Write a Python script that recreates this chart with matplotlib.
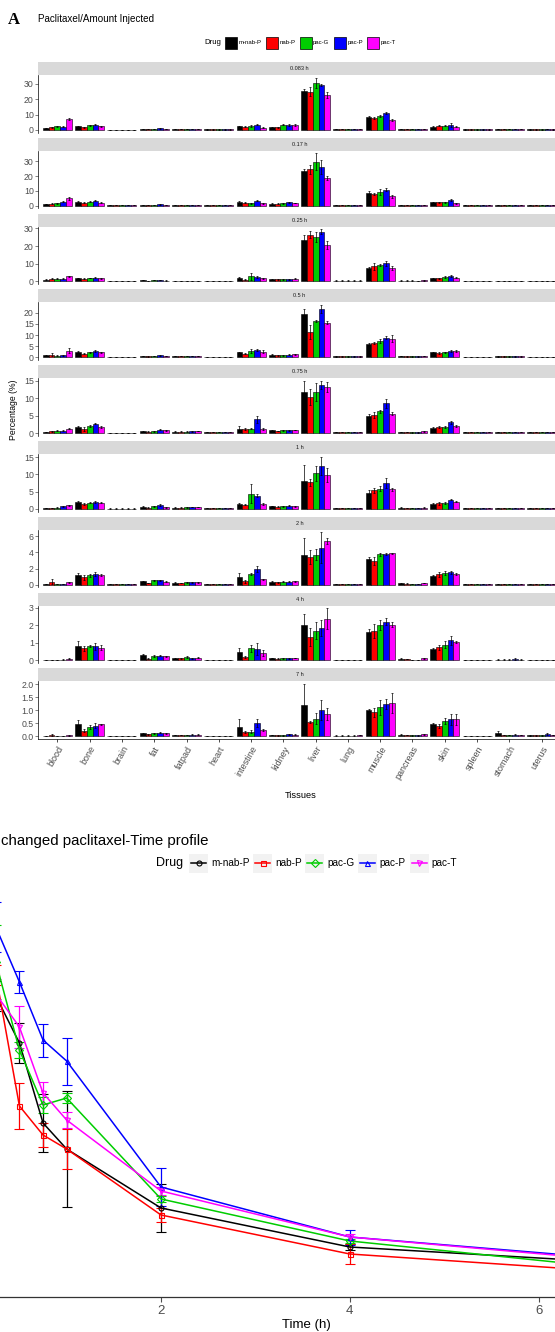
import numpy as np
import matplotlib.pyplot as plt
from matplotlib.patches import Rectangle
from matplotlib.ticker import FormatStrFormatter

plt.rcParams['font.family'] = ['Liberation Sans', 'DejaVu Sans']

# --- data -------------------------------------------------------------
drugs = ['m-nab-P', 'nab-P', 'pac-G', 'pac-P', 'pac-T']
colors = ['#000000', '#FF0000', '#00CD00', '#0000FF', '#FF00FF']
markers = ['o', 's', 'D', '^', 'v']
tissues = ['blood', 'bone', 'brain', 'fat', 'fatpad', 'heart', 'intestine', 'kidney',
           'liver', 'lung', 'muscle', 'pancreas', 'skin', 'spleen', 'stomach', 'uterus']
time_labels = ['0.083 h', '0.17 h', '0.25 h', '0.5 h', '0.75 h', '1 h', '2 h', '4 h', '7 h']
yticks_list = [[0, 10, 20, 30], [0, 10, 20, 30], [0, 10, 20, 30], [0, 5, 10, 15, 20],
               [0, 5, 10, 15], [0, 5, 10, 15], [0, 2, 4, 6], [0, 1, 2, 3],
               [0, 0.5, 1.0, 1.5, 2.0]]

# percentage of injected dose, rows = tissues, cols = drugs
pct_0083 = [[1.3, 1.7, 2.4, 2.2, 7.2], [2.4, 1.7, 3.0, 3.5, 2.4], [0.2, 0.2, 0.2, 0.2, 0.2],
            [0.5, 0.4, 0.6, 1.0, 0.4], [0.4, 0.4, 0.5, 0.4, 0.4], [0.3, 0.3, 0.3, 0.3, 0.3],
            [2.4, 2.2, 2.6, 3.5, 1.5], [1.7, 1.8, 3.5, 3.2, 3.2], [25.2, 25.0, 30.6, 29.3, 23.0],
            [0.5, 0.5, 0.6, 0.6, 0.6], [8.3, 7.6, 8.9, 11.1, 6.5], [0.6, 0.5, 0.5, 0.5, 0.6],
            [2.2, 2.8, 2.8, 3.5, 2.2], [0.3, 0.3, 0.3, 0.3, 0.3], [0.4, 0.4, 0.5, 0.6, 0.4],
            [0.3, 0.3, 0.3, 0.4, 0.3]]
err_0083 = [[0.2, 0.3, 0.3, 0.3, 0.7], [0.3, 0.2, 0.3, 0.4, 0.3], [0.05, 0.05, 0.05, 0.05, 0.05],
            [0.1, 0.1, 0.1, 0.2, 0.1], [0.1, 0.1, 0.1, 0.1, 0.1], [0.05, 0.05, 0.05, 0.05, 0.05],
            [0.4, 0.3, 0.4, 0.5, 0.3], [0.3, 0.3, 0.4, 0.4, 0.4], [1.3, 2.8, 3.5, 0.8, 2.0],
            [0.1, 0.1, 0.1, 0.1, 0.1], [0.6, 0.8, 0.7, 0.7, 0.8], [0.1, 0.1, 0.1, 0.1, 0.1],
            [0.3, 0.4, 0.4, 1.3, 0.3], [0.05, 0.05, 0.05, 0.05, 0.05], [0.1, 0.1, 0.1, 0.1, 0.1],
            [0.05, 0.05, 0.05, 0.05, 0.05]]

pct_017 = [[1.1, 1.3, 1.7, 2.6, 5.0], [2.6, 2.0, 2.8, 3.5, 2.0], [0.2, 0.2, 0.2, 0.2, 0.2],
           [0.6, 0.5, 0.6, 1.1, 0.5], [0.5, 0.5, 0.5, 0.5, 0.5], [0.3, 0.3, 0.3, 0.3, 0.3],
           [2.4, 2.0, 1.7, 3.5, 1.7], [1.3, 1.3, 1.5, 2.2, 1.7], [23.2, 24.6, 29.8, 26.1, 18.7],
           [0.4, 0.4, 0.5, 0.6, 0.6], [8.3, 8.0, 9.3, 10.9, 6.5], [0.5, 0.5, 0.5, 0.5, 0.7],
           [2.4, 2.4, 2.4, 3.7, 1.7], [0.3, 0.3, 0.3, 0.3, 0.3], [0.4, 0.4, 0.5, 0.6, 0.4],
           [0.3, 0.3, 0.3, 0.3, 0.3]]
err_017 = [[0.2, 0.2, 0.3, 0.4, 1.0], [0.3, 0.3, 0.5, 0.5, 0.3], [0.05, 0.05, 0.05, 0.05, 0.05],
           [0.1, 0.1, 0.1, 0.3, 0.1], [0.1, 0.1, 0.1, 0.1, 0.1], [0.05, 0.05, 0.05, 0.05, 0.05],
           [0.5, 0.5, 0.4, 0.4, 0.3], [0.2, 0.2, 0.2, 0.3, 0.2], [1.5, 3.0, 5.5, 5.0, 1.2],
           [0.1, 0.1, 0.1, 0.1, 0.1], [1.5, 0.6, 1.8, 1.0, 1.0], [0.1, 0.1, 0.1, 0.1, 0.1],
           [0.3, 0.4, 0.3, 0.5, 0.3], [0.05, 0.05, 0.05, 0.05, 0.05], [0.1, 0.1, 0.1, 0.1, 0.1],
           [0.05, 0.05, 0.05, 0.05, 0.05]]

pct_025 = [[1.1, 1.5, 1.5, 1.5, 2.9], [2.0, 1.6, 2.0, 2.2, 1.8], [0.2, 0.2, 0.2, 0.2, 0.2],
           [0.8, 0.4, 0.8, 0.8, 0.5], [0.4, 0.4, 0.4, 0.4, 0.4], [0.3, 0.3, 0.3, 0.3, 0.3],
           [2.2, 1.1, 2.9, 2.5, 1.8], [1.2, 1.2, 1.2, 1.2, 1.5], [23.5, 26.5, 25.1, 28.2, 20.7],
           [0.5, 0.5, 0.5, 0.5, 0.5], [7.8, 8.5, 9.3, 10.2, 7.5], [0.5, 0.5, 0.5, 0.3, 0.6],
           [1.8, 1.8, 2.5, 3.1, 2.2], [0.2, 0.2, 0.2, 0.2, 0.2], [0.4, 0.4, 0.4, 0.4, 0.4],
           [0.3, 0.3, 0.3, 0.3, 0.3]]
err_025 = [[0.2, 0.3, 0.3, 0.3, 0.4], [0.2, 0.3, 0.2, 0.3, 0.2], [0.05, 0.05, 0.05, 0.05, 0.05],
           [0.1, 0.1, 0.1, 0.1, 0.1], [0.1, 0.1, 0.1, 0.1, 0.1], [0.05, 0.05, 0.05, 0.05, 0.05],
           [0.3, 0.2, 2.0, 0.8, 0.4], [0.2, 0.2, 0.2, 0.2, 0.2], [2.5, 2.2, 2.7, 1.3, 2.3],
           [0.1, 0.1, 0.1, 0.1, 0.1], [0.5, 2.0, 0.7, 1.2, 1.0], [0.1, 0.1, 0.1, 0.1, 0.1],
           [0.3, 0.3, 0.4, 0.4, 0.3], [0.05, 0.05, 0.05, 0.05, 0.05], [0.1, 0.1, 0.1, 0.1, 0.1],
           [0.05, 0.05, 0.05, 0.05, 0.05]]

pct_05 = [[0.9, 1.2, 0.7, 0.9, 3.0], [2.5, 1.6, 2.2, 2.8, 2.2], [0.2, 0.2, 0.2, 0.2, 0.2],
          [0.7, 0.4, 0.7, 1.0, 0.5], [0.5, 0.5, 0.5, 0.6, 0.6], [0.3, 0.3, 0.3, 0.3, 0.3],
          [2.2, 1.7, 2.8, 3.3, 2.6], [1.2, 1.0, 1.0, 1.2, 1.4], [19.3, 11.3, 16.4, 21.7, 15.5],
          [0.4, 0.4, 0.4, 0.4, 0.4], [6.1, 6.5, 7.2, 8.7, 8.3], [0.5, 0.4, 0.4, 0.4, 0.6],
          [2.2, 1.9, 2.3, 3.0, 2.9], [0.3, 0.3, 0.3, 0.3, 0.3], [0.4, 0.4, 0.4, 0.4, 0.4],
          [0.3, 0.3, 0.3, 0.3, 0.3]]
err_05 = [[0.2, 0.8, 0.2, 0.3, 1.0], [0.3, 0.2, 0.2, 0.5, 0.3], [0.05, 0.05, 0.05, 0.05, 0.05],
          [0.1, 0.1, 0.1, 0.2, 0.1], [0.1, 0.1, 0.1, 0.1, 0.1], [0.05, 0.05, 0.05, 0.05, 0.05],
          [0.4, 0.3, 0.8, 0.5, 0.8], [0.2, 0.2, 0.2, 0.2, 0.2], [2.3, 3.0, 0.5, 1.8, 0.6],
          [0.1, 0.1, 0.1, 0.1, 0.1], [0.4, 0.5, 1.0, 0.7, 1.5], [0.1, 0.1, 0.1, 0.1, 0.1],
          [0.3, 0.3, 0.3, 0.4, 0.5], [0.05, 0.05, 0.05, 0.05, 0.05], [0.1, 0.1, 0.1, 0.1, 0.1],
          [0.05, 0.05, 0.05, 0.05, 0.05]]

pct_075 = [[0.3, 0.5, 0.65, 0.65, 1.3], [1.75, 1.2, 2.0, 2.7, 1.7], [0.1, 0.1, 0.1, 0.1, 0.1],
           [0.55, 0.45, 0.55, 1.0, 0.8], [0.45, 0.45, 0.45, 0.5, 0.55], [0.2, 0.2, 0.2, 0.2, 0.2],
           [1.3, 1.2, 1.3, 3.9, 1.3], [0.75, 0.6, 0.8, 0.8, 0.9], [11.8, 10.4, 11.8, 13.8, 13.3],
           [0.3, 0.3, 0.3, 0.3, 0.3], [5.0, 5.2, 6.2, 8.5, 5.6], [0.4, 0.3, 0.2, 0.2, 0.5],
           [1.5, 1.7, 1.85, 3.05, 2.0], [0.2, 0.2, 0.2, 0.2, 0.2], [0.3, 0.3, 0.3, 0.3, 0.3],
           [0.2, 0.2, 0.2, 0.2, 0.2]]
err_075 = [[0.05, 0.1, 0.1, 0.1, 0.1], [0.2, 0.5, 0.3, 0.2, 0.2], [0.02, 0.02, 0.02, 0.02, 0.02],
           [0.1, 0.1, 0.1, 0.1, 0.2], [0.05, 0.05, 0.05, 0.05, 0.05], [0.03, 0.03, 0.03, 0.03, 0.03],
           [0.7, 0.2, 0.2, 0.9, 0.3], [0.1, 0.1, 0.1, 0.1, 0.1], [3.2, 2.3, 2.7, 1.1, 1.5],
           [0.05, 0.05, 0.05, 0.05, 0.05], [0.5, 0.8, 0.3, 1.2, 0.5], [0.05, 0.05, 0.05, 0.05, 0.1],
           [0.2, 0.2, 0.3, 0.4, 0.2], [0.03, 0.03, 0.03, 0.03, 0.03], [0.05, 0.05, 0.05, 0.05, 0.05],
           [0.03, 0.03, 0.03, 0.03, 0.03]]

pct_1 = [[0.3, 0.3, 0.4, 0.7, 1.0], [1.9, 1.4, 1.8, 2.05, 1.8], [0.1, 0.1, 0.1, 0.1, 0.1],
         [0.6, 0.4, 0.7, 1.1, 0.5], [0.4, 0.4, 0.45, 0.5, 0.55], [0.15, 0.15, 0.15, 0.15, 0.15],
         [1.4, 1.2, 4.4, 3.8, 1.4], [0.8, 0.6, 0.7, 0.9, 0.75], [8.1, 7.8, 10.3, 12.5, 9.8],
         [0.3, 0.3, 0.3, 0.3, 0.3], [4.5, 5.4, 5.9, 7.5, 5.7], [0.4, 0.3, 0.3, 0.3, 0.4],
         [1.4, 1.6, 1.7, 2.7, 2.05], [0.2, 0.2, 0.2, 0.2, 0.2], [0.3, 0.3, 0.3, 0.3, 0.3],
         [0.2, 0.2, 0.2, 0.2, 0.2]]
err_1 = [[0.05, 0.05, 0.05, 0.1, 0.1], [0.3, 0.2, 0.2, 0.2, 0.2], [0.02, 0.02, 0.02, 0.02, 0.02],
         [0.1, 0.1, 0.1, 0.2, 0.1], [0.05, 0.05, 0.05, 0.05, 0.05], [0.03, 0.03, 0.03, 0.03, 0.03],
         [0.4, 0.2, 2.8, 0.4, 0.3], [0.1, 0.1, 0.1, 0.1, 0.1], [4.7, 1.0, 2.2, 2.7, 2.0],
         [0.05, 0.05, 0.05, 0.05, 0.05], [1.0, 0.8, 0.7, 1.5, 0.4], [0.05, 0.05, 0.05, 0.05, 0.05],
         [0.3, 0.4, 0.2, 0.2, 0.1], [0.03, 0.03, 0.03, 0.03, 0.03], [0.05, 0.05, 0.05, 0.05, 0.05],
         [0.03, 0.03, 0.03, 0.03, 0.03]]

pct_2 = [[0.08, 0.36, 0.08, 0.08, 0.32], [1.25, 0.93, 1.17, 1.33, 1.17], [0.05, 0.05, 0.05, 0.05, 0.05],
         [0.4, 0.24, 0.52, 0.56, 0.36], [0.25, 0.22, 0.3, 0.28, 0.3], [0.08, 0.08, 0.08, 0.08, 0.08],
         [0.93, 0.44, 1.29, 1.94, 0.69], [0.35, 0.3, 0.35, 0.35, 0.4], [3.63, 3.4, 3.7, 4.56, 5.4],
         [0.1, 0.1, 0.1, 0.1, 0.1], [3.23, 2.9, 3.75, 3.8, 3.87], [0.15, 0.12, 0.1, 0.1, 0.2],
         [1.13, 1.3, 1.5, 1.55, 1.3], [0.1, 0.1, 0.1, 0.1, 0.1], [0.12, 0.12, 0.12, 0.12, 0.12],
         [0.1, 0.1, 0.1, 0.1, 0.1]]
err_2 = [[0.02, 0.3, 0.02, 0.02, 0.05], [0.2, 0.3, 0.2, 0.2, 0.15], [0.01, 0.01, 0.01, 0.01, 0.01],
         [0.05, 0.03, 0.05, 0.05, 0.05], [0.04, 0.04, 0.04, 0.04, 0.04], [0.01, 0.01, 0.01, 0.01, 0.01],
         [0.5, 0.2, 0.1, 0.4, 0.05], [0.05, 0.05, 0.05, 0.05, 0.05], [2.1, 0.9, 0.7, 1.9, 0.4],
         [0.02, 0.02, 0.02, 0.02, 0.02], [0.2, 0.5, 0.2, 0.15, 0.1], [0.03, 0.03, 0.02, 0.02, 0.03],
         [0.05, 0.3, 0.25, 0.2, 0.1], [0.02, 0.02, 0.02, 0.02, 0.02], [0.02, 0.02, 0.02, 0.02, 0.02],
         [0.02, 0.02, 0.02, 0.02, 0.02]]

pct_4 = [[0.04, 0.04, 0.04, 0.05, 0.1], [0.8, 0.7, 0.84, 0.8, 0.74], [0.02, 0.02, 0.02, 0.02, 0.02],
         [0.33, 0.1, 0.25, 0.28, 0.24], [0.12, 0.12, 0.2, 0.13, 0.17], [0.02, 0.02, 0.02, 0.02, 0.02],
         [0.47, 0.2, 0.7, 0.65, 0.43], [0.15, 0.1, 0.13, 0.13, 0.15], [2.0, 1.33, 1.7, 1.83, 2.38],
         [0.04, 0.04, 0.04, 0.04, 0.04], [1.62, 1.66, 2.03, 2.22, 2.05], [0.1, 0.08, 0.04, 0.04, 0.13],
         [0.65, 0.76, 0.9, 1.15, 1.06], [0.03, 0.03, 0.03, 0.03, 0.03], [0.05, 0.05, 0.05, 0.1, 0.05],
         [0.04, 0.04, 0.04, 0.04, 0.04]]
err_4 = [[0.01, 0.01, 0.01, 0.01, 0.02], [0.3, 0.15, 0.05, 0.2, 0.15], [0.01, 0.01, 0.01, 0.01, 0.01],
         [0.03, 0.02, 0.04, 0.03, 0.03], [0.02, 0.02, 0.03, 0.02, 0.02], [0.01, 0.01, 0.01, 0.01, 0.01],
         [0.25, 0.05, 0.2, 0.35, 0.15], [0.02, 0.02, 0.02, 0.02, 0.02], [0.65, 0.5, 0.5, 0.45, 0.6],
         [0.01, 0.01, 0.01, 0.01, 0.01], [0.2, 0.4, 0.3, 0.2, 0.15], [0.02, 0.02, 0.01, 0.01, 0.02],
         [0.05, 0.15, 0.2, 0.25, 0.05], [0.01, 0.01, 0.01, 0.01, 0.01], [0.02, 0.02, 0.02, 0.05, 0.02],
         [0.01, 0.01, 0.01, 0.01, 0.01]]

pct_7 = [[0.02, 0.05, 0.02, 0.02, 0.04], [0.47, 0.22, 0.37, 0.41, 0.47], [0.01, 0.01, 0.01, 0.01, 0.01],
         [0.12, 0.07, 0.11, 0.13, 0.11], [0.05, 0.05, 0.05, 0.06, 0.06], [0.01, 0.01, 0.01, 0.01, 0.01],
         [0.36, 0.16, 0.18, 0.51, 0.25], [0.05, 0.04, 0.04, 0.08, 0.06], [1.19, 0.55, 0.68, 1.01, 0.86],
         [0.03, 0.03, 0.03, 0.03, 0.05], [1.0, 0.93, 1.11, 1.25, 1.27], [0.06, 0.05, 0.04, 0.04, 0.08],
         [0.47, 0.41, 0.59, 0.65, 0.65], [0.02, 0.02, 0.02, 0.02, 0.02], [0.12, 0.05, 0.05, 0.06, 0.05],
         [0.04, 0.04, 0.04, 0.08, 0.05]]
err_7 = [[0.01, 0.03, 0.01, 0.01, 0.02], [0.15, 0.05, 0.08, 0.1, 0.02], [0.005, 0.005, 0.005, 0.005, 0.005],
         [0.02, 0.02, 0.03, 0.02, 0.02], [0.01, 0.01, 0.01, 0.01, 0.01], [0.005, 0.005, 0.005, 0.005, 0.005],
         [0.3, 0.05, 0.06, 0.15, 0.04], [0.01, 0.01, 0.01, 0.02, 0.01], [0.82, 0.03, 0.2, 0.4, 0.22],
         [0.01, 0.01, 0.01, 0.01, 0.01], [0.03, 0.17, 0.3, 0.2, 0.38], [0.01, 0.01, 0.01, 0.01, 0.02],
         [0.05, 0.08, 0.1, 0.22, 0.2], [0.005, 0.005, 0.005, 0.005, 0.005], [0.08, 0.01, 0.01, 0.02, 0.01],
         [0.01, 0.01, 0.01, 0.03, 0.01]]

pct_means = [pct_0083, pct_017, pct_025, pct_05, pct_075, pct_1, pct_2, pct_4, pct_7]
pct_errs = [err_0083, err_017, err_025, err_05, err_075, err_1, err_2, err_4, err_7]

# unchanged paclitaxel vs time
time_h = [0.083, 0.17, 0.25, 0.5, 0.75, 1, 2, 4, 7]
conc = [[34.0, 32.0, 30.1, 25.4, 17.4, 14.8, 8.9, 5.0, 3.35],
        [36.0, 34.0, 32.2, 19.1, 16.2, 14.8, 8.2, 4.3, 2.4],
        [37.0, 35.0, 33.5, 24.7, 19.2, 19.9, 9.8, 5.6, 2.7],
        [41.0, 39.0, 37.0, 31.5, 25.7, 23.6, 11.0, 6.0, 3.65],
        [33.0, 32.0, 30.3, 27.0, 20.4, 17.7, 10.6, 6.0, 3.5]]
conc_err = [[2.0, 2.0, 1.5, 2.0, 2.9, 5.8, 2.4, 0.3, 0.2],
            [2.0, 2.0, 1.0, 2.3, 1.2, 2.0, 0.7, 1.0, 0.3],
            [2.0, 2.0, 3.7, 0.8, 0.8, 0.5, 0.3, 0.2, 0.2],
            [2.0, 2.0, 2.5, 1.1, 1.65, 2.35, 1.9, 0.75, 0.4],
            [2.0, 2.0, 1.5, 2.1, 1.1, 0.8, 0.4, 0.3, 0.2]]

# --- figure -----------------------------------------------------------
W, H = 555, 1332
fig = plt.figure(figsize=(W / 100, H / 100), dpi=100)


def box(x0, y0, x1, y1):
    # pixel box (top-left origin) -> figure fraction
    return [x0 / W, 1 - y1 / H, (x1 - x0) / W, (y1 - y0) / H]


grey = '#4D4D4D'
x = np.arange(1, len(tissues) + 1)
for i, lab in enumerate(time_labels):
    top = 62 + i * 75.8
    sax = fig.add_axes(box(38, top, 561, top + 13))
    sax.set_facecolor('#D9D9D9')
    for s in sax.spines.values():
        s.set_visible(False)
    sax.set_xticks([])
    sax.set_yticks([])
    sax.text(0.5, 0.5, lab, ha='center', va='center', fontsize=4, color='#1A1A1A',
             transform=sax.transAxes)

    ax = fig.add_axes(box(38, top + 13, 561, top + 70.5))
    m = np.array(pct_means[i])
    e = np.array(pct_errs[i])
    for j in range(len(drugs)):
        ax.bar(x + (j - 2) * 0.18, m[:, j], width=0.18, color=colors[j],
               edgecolor='black', linewidth=0.4, yerr=e[:, j],
               error_kw=dict(ecolor='black', elinewidth=0.5, capsize=1.0, capthick=0.5))
    ymax = (m + e).max()
    ax.set_ylim(-0.05 * ymax, ymax * 1.05)
    ax.set_xlim(0.4, 16.6)
    ax.set_yticks(yticks_list[i])
    if i == 8:
        ax.yaxis.set_major_formatter(FormatStrFormatter('%.1f'))
    ax.tick_params(axis='y', labelsize=6.3, colors=grey, length=2, width=0.5, pad=1)
    ax.spines['top'].set_visible(False)
    ax.spines['right'].set_visible(False)
    ax.spines['left'].set_linewidth(0.5)
    if i < 8:
        ax.spines['bottom'].set_visible(False)
        ax.tick_params(axis='x', bottom=False, labelbottom=False)
    else:
        ax.spines['bottom'].set_linewidth(0.5)
        ax.set_xticks(x)
        ax.set_xticklabels(tissues, rotation=60, ha='right', va='top',
                           rotation_mode='anchor', fontsize=6.5, color=grey)
        ax.tick_params(axis='x', length=2, width=0.5, pad=2)

fig.text(8 / W, 1 - 19.5 / H, 'A', fontsize=12, fontweight='bold',
         family=['Liberation Serif', 'DejaVu Serif'], va='center')
fig.text(38 / W, 1 - 19.5 / H, 'Paclitaxel/Amount Injected', fontsize=7.1, va='center')
fig.text(14 / W, 1 - 410 / H, 'Percentage (%)', fontsize=6.2, rotation=90,
         ha='center', va='center')
fig.text(301 / W, 1 - 796 / H, 'Tissues', fontsize=6.7, ha='center', va='center')

# --- time profile -----------------------------------------------------
ax2 = fig.add_axes(box(-52.6, 877, 665.7, 1297))
for j in range(len(drugs)):
    ax2.errorbar(time_h, conc[j], yerr=conc_err[j], color=colors[j], marker=markers[j],
                 mfc='none', ms=3.6, mew=0.8, lw=1.1, elinewidth=0.9,
                 capsize=3.3, capthick=0.9)
ax2.set_xlim(-0.263, 7.346)
ax2.set_ylim(0, 42)
ax2.set_xticks([2, 4, 6])
ax2.set_yticks([])
for s in ['top', 'right', 'left']:
    ax2.spines[s].set_visible(False)
ax2.spines['bottom'].set_color('#333333')
ax2.spines['bottom'].set_linewidth(0.9)
ax2.tick_params(axis='x', labelsize=9.5, colors=grey, length=3.5, width=0.8, pad=2)
ax2.set_xlabel('Time (h)', fontsize=9.5, labelpad=2)
fig.text(1 / W, 1 - 841 / H, 'changed paclitaxel-Time profile', fontsize=10.8, va='center')

# --- legends (drawn in pixel space) -----------------------------------
lax = fig.add_axes([0, 0, 1, 1], zorder=10)
lax.set_xlim(0, W)
lax.set_ylim(H, 0)
lax.axis('off')
lax.patch.set_alpha(0)

lax.text(221, 42.5, 'Drug', ha='right', va='center', fontsize=5.6)
for kx, tx, c, d in zip([225, 266, 300, 334, 367], [239, 280, 313, 348, 381], colors, drugs):
    lax.add_patch(Rectangle((kx, 36.5), 12, 12, facecolor=c, edgecolor='black', lw=0.5))
    lax.text(tx, 42.5, d, ha='left', va='center', fontsize=4.3)

lax.text(183, 863, 'Drug', ha='right', va='center', fontsize=9)
for kx, c, mk, d in zip([189, 253, 305, 357.5, 409.6], colors, markers, drugs):
    lax.add_patch(Rectangle((kx, 853.5), 19, 19, facecolor='#F2F2F2', edgecolor='none'))
    lax.plot([kx + 2, kx + 17], [863, 863], color=c, lw=1.1)
    lax.plot([kx + 9.5], [863], color=c, marker=mk, mfc='none', ms=3.6, mew=0.8)
    lax.text(kx + 22, 863, d, ha='left', va='center', fontsize=7.2)

fig.savefig('out.png', dpi=100)
